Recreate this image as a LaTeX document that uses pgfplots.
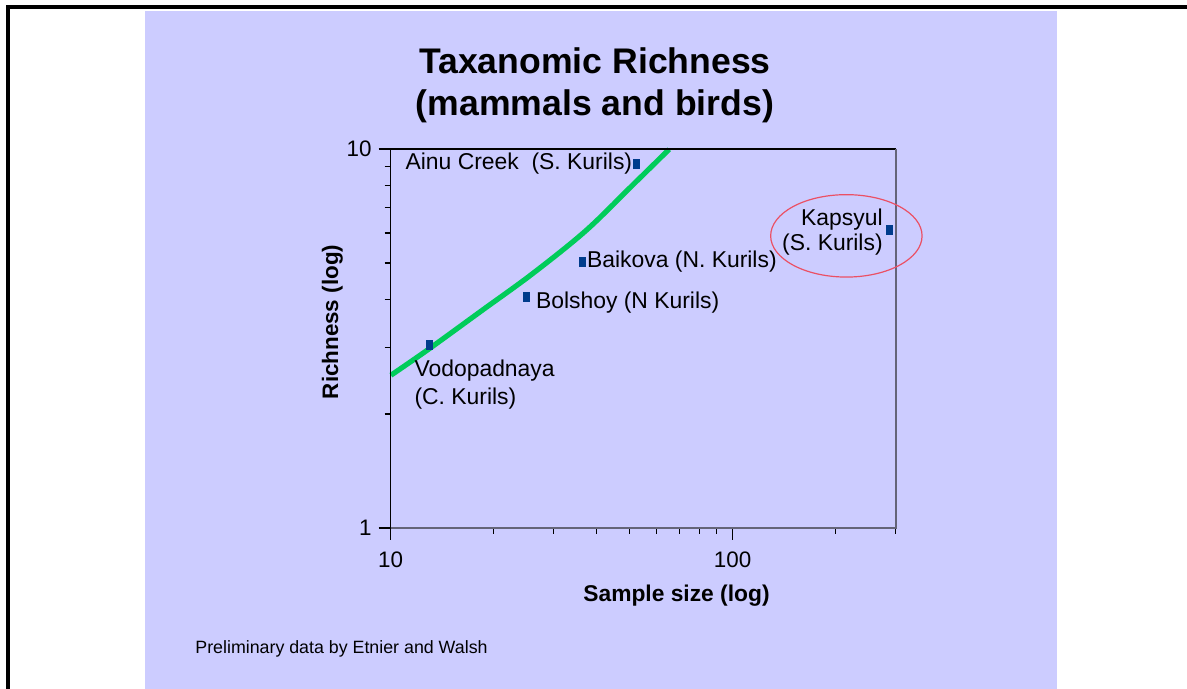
\documentclass[border=0pt]{standalone}
\usepackage{pgfplots}
\pgfplotsset{compat=1.18}
\usepackage{fontspec}
\setmainfont{Liberation Sans}
\definecolor{panel}{RGB}{204,204,255}
\definecolor{fitgreen}{RGB}{0,204,90}
\definecolor{ptblue}{RGB}{0,60,140}
\definecolor{ringred}{RGB}{235,80,100}
\definecolor{axgray}{RGB}{100,100,120}
\begin{document}
\begin{tikzpicture}
\begin{scope}[x=0.5pt,y=-0.5pt]
\path[use as bounding box] (0,0) rectangle (1187,689);
\fill[white] (0,0) rectangle (1187,689);
\fill[panel] (145,11) rectangle (1057,689);
\fill[black] (6,5) rectangle (1187,9);
\fill[black] (6,5) rectangle (10,689);
\node[anchor=base, inner sep=0, font=\bfseries\fontsize{17.8}{21}\selectfont] at (595,74) {Taxanomic Richness};
\node[anchor=base, inner sep=0, font=\bfseries\fontsize{17.8}{21}\selectfont] at (595,116) {(mammals and birds)};
\node[anchor=base, inner sep=0, font=\bfseries\fontsize{11.4}{13}\selectfont] at (676.5,601) {Sample size (log)};
\node[anchor=base, rotate=90, inner sep=0, font=\bfseries\fontsize{11.2}{13}\selectfont] at (338,322) {Richness (log)};
\node[anchor=west, inner sep=0, font=\fontsize{8.9}{10}\selectfont] at (195,649) {Preliminary data by Etnier and Walsh};
\end{scope}
\begin{axis}[
  at={(195.25pt,-264pt)}, anchor=south west,
  scale only axis, width=252.6pt, height=189.5pt,
  xmode=log, ymode=log,
  xmin=10, xmax=300, ymin=1, ymax=10,
  xtick={10,100}, ytick={1,10},
  xticklabels={10,100}, yticklabels={1,10},
  minor xtick={20,30,40,50,60,70,80,90,200,300},
  minor ytick={2,3,4,5,6,7,8,9},
  tick align=outside, xtick pos=left, ytick pos=left,
  major tick length=6pt, minor tick length=3pt,
  tick style={black, line width=0.6pt},
  axis line style={draw=none},
  ticklabel style={font=\fontsize{11.2}{13}\selectfont},
  xticklabel style={yshift=-2.5pt},
  /pgf/number format/assume math mode=true,
  clip=false,
]
\addplot[fitgreen, line width=2.6pt, smooth, tension=0.55] coordinates {
  (10.03,2.53) (12.9,2.96) (18.51,3.75) (25.95,4.68) (37.19,6.08) (50.96,8.02) (65.26,9.98)
};
\addplot[only marks, mark=square*, mark size=2.25pt,
  mark options={xscale=0.67, draw=ptblue, fill=ptblue}] coordinates {
  (13,3.05) (25,4.06) (36.3,5.04) (52.4,9.13) (288,6.11)
};
\draw[black, line width=0.7pt] (rel axis cs:0,0) -- (rel axis cs:0,1) -- (rel axis cs:1,1);
\draw[axgray, line width=1pt] (rel axis cs:0,0) -- (rel axis cs:1,0) -- (rel axis cs:1,1);
\draw[ringred, line width=0.6pt] (axis cs:215.2,5.90) ellipse [x radius=37.85pt, y radius=20.6pt];
\begin{scope}[every node/.style={inner sep=0, font=\fontsize{11.45}{13}\selectfont}]
\node[anchor=base east, xshift=-2pt, yshift=-3pt] at (axis cs:52.4,9.13) {Ainu Creek\ \ (S. Kurils)};
\node[anchor=base west, xshift=2.35pt, yshift=-2.8pt] at (axis cs:36.3,5.04) {Baikova (N. Kurils)};
\node[anchor=base west, xshift=4.5pt, yshift=-5.5pt] at (axis cs:25,4.06) {Bolshoy (N Kurils)};
\node[anchor=base west, xshift=-7.65pt, yshift=-16.2pt] at (axis cs:13,3.05) {Vodopadnaya};
\node[anchor=base west, xshift=-7.65pt, yshift=-30.1pt] at (axis cs:13,3.05) {(C. Kurils)};
\node[anchor=base east, xshift=-3.3pt, yshift=2.5pt] at (axis cs:288,6.11) {Kapsyul};
\node[anchor=base east, xshift=-3.3pt, yshift=-10.35pt] at (axis cs:288,6.11) {(S. Kurils)};
\end{scope}
\end{axis}
\end{tikzpicture}
\end{document}
